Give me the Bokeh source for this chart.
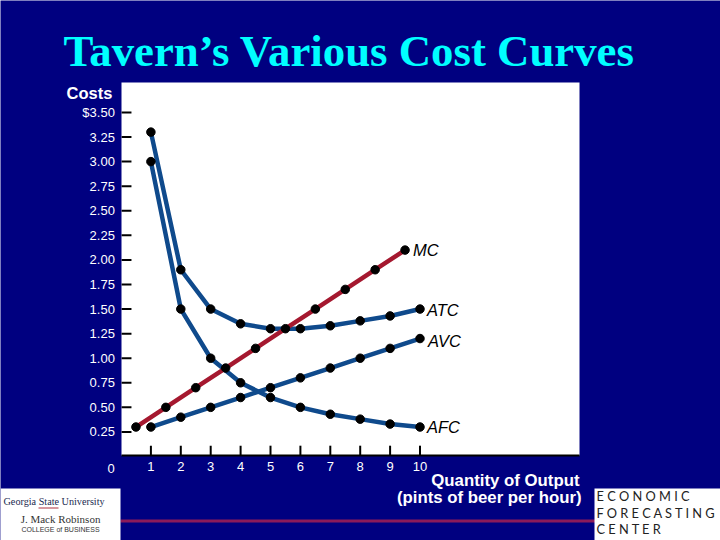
from bokeh.plotting import figure
from bokeh.models import Range1d, Label, FixedTicker, LinearAxis, BoxAnnotation
from bokeh.embed import file_html
from bokeh.resources import INLINE

# Data
quantity = [1, 2, 3, 4, 5, 6, 7, 8, 9, 10]
mc_quantity = [0.5, 1.5, 2.5, 3.5, 4.5, 5.5, 6.5, 7.5, 8.5, 9.5]
mc = [0.30, 0.50, 0.70, 0.90, 1.10, 1.30, 1.50, 1.70, 1.90, 2.10]
atc = [3.30, 1.90, 1.50, 1.35, 1.30, 1.30, 1.33, 1.38, 1.43, 1.50]
avc = [0.30, 0.40, 0.50, 0.60, 0.70, 0.80, 0.90, 1.00, 1.10, 1.20]
afc = [3.00, 1.50, 1.00, 0.75, 0.60, 0.50, 0.43, 0.38, 0.33, 0.30]
y_ticks = [0.25, 0.50, 0.75, 1.00, 1.25, 1.50, 1.75, 2.00, 2.25, 2.50, 2.75, 3.00, 3.25, 3.50]
y_tick_labels = ["0.25", "0.50", "0.75", "1.00", "1.25", "1.50", "1.75", "2.00",
                 "2.25", "2.50", "2.75", "3.00", "3.25", "$3.50"]

NAVY = "#000080"
BLUE = "#0F4A8C"
RED = "#A5182F"
W, H = 720, 540

# The frame fills the whole canvas, so that screen units are window pixels
p = figure(width=W, height=H, output_backend="svg", toolbar_location=None,
           x_axis_type=None, y_axis_type=None,
           x_range=Range1d(-4.03, 20.05), y_range=Range1d(-0.8545, 4.639),
           min_border=0, background_fill_color=NAVY, border_fill_color=NAVY, outline_line_color=None)
p.grid.visible = False


def box(x0, x1, y0, y1, color):
    p.add_layout(BoxAnnotation(left=x0, right=x1, top=H - y0, bottom=H - y1,
                               left_units="screen", right_units="screen", top_units="screen",
                               bottom_units="screen", fill_color=color, fill_alpha=1, line_color=None,
                               level="image"))


def txt(text, px, py, size, color="white", font="Liberation Sans", style="normal", align="left"):
    p.add_layout(Label(x=px, y=H - py, x_units="screen", y_units="screen", text=text,
                       text_font=font, text_font_size=size, text_font_style=style, text_color=color,
                       text_align=align, text_baseline="middle"))


box(121, 579, 82, 455, "white")
box(120, 596, 519, 522, "#8B1A5A")
box(0, 120, 488, 540, "white")
box(594, 720, 488, 540, "white")
box(38, 58, 507, 508, "#B03040")

xaxis = LinearAxis(fixed_location=0.01, ticker=FixedTicker(ticks=quantity), bounds=(0.02, 15.33))
yaxis = LinearAxis(fixed_location=0.03, ticker=FixedTicker(ticks=y_ticks),
                   major_label_overrides={t: l for t, l in zip(y_ticks, y_tick_labels)})
p.add_layout(xaxis, "below")
p.add_layout(yaxis, "left")
for ax in (xaxis, yaxis):
    ax.major_tick_in = 0
    ax.major_tick_out = 0
    ax.minor_tick_line_color = None
    ax.major_label_text_color = "white"
    ax.major_label_text_font = "Liberation Sans"
    ax.major_label_text_font_size = "13px"
xaxis.axis_line_color = "black"
xaxis.axis_line_width = 2
yaxis.axis_line_color = None
yaxis.major_label_standoff = 7
xaxis.major_label_standoff = 6

# Inward tick marks at the axes' tick values
p.segment(x0=[0.02] * len(y_ticks), x1=[0.35] * len(y_ticks), y0=y_ticks, y1=y_ticks,
          line_color="black", line_width=2)
p.segment(x0=quantity, x1=quantity, y0=[0.01] * len(quantity), y1=[0.11] * len(quantity),
          line_color="black", line_width=2)

for xs, ys, col in [(quantity, atc, BLUE), (quantity, afc, BLUE), (quantity, avc, BLUE), (mc_quantity, mc, RED)]:
    p.line(xs, ys, line_color=col, line_width=4.5)
for xs, ys, col in [(quantity, atc, BLUE), (quantity, afc, BLUE), (quantity, avc, BLUE), (mc_quantity, mc, RED)]:
    p.scatter(xs, ys, size=8.5, color="black")

# Curve labels, attached to each curve's last point
for name, xv, yv, dx, dy in [("MC", mc_quantity[-1], mc[-1], 8, 0), ("ATC", quantity[-1], atc[-1], 7, -1),
                             ("AVC", quantity[-1], avc[-1], 8, -2), ("AFC", quantity[-1], afc[-1], 7, 0)]:
    p.add_layout(Label(x=xv, y=yv, x_offset=dx, y_offset=dy, text=name, text_font="Liberation Sans",
                       text_font_style="italic", text_font_size="16.5px", text_color="black",
                       text_baseline="middle", text_align="left"))

p.add_layout(Label(x=0, y=0, x_offset=-10, y_offset=-12, text="0", text_font="Liberation Sans",
                   text_font_size="13px", text_color="white", text_align="center", text_baseline="middle"))

txt("Tavern\u2019s Various Cost Curves", 63, 50, "44.8px", "#00FFFF", "Liberation Serif", "bold")
txt("Costs", 66, 92, "16.5px", style="bold")
txt("Quantity of Output", 579, 480, "16.8px", style="bold", align="right")
txt("(pints of beer per hour)", 581, 497, "16.8px", style="bold", align="right")

# Logos
txt("Georgia State University", 3, 501, "10.2px", "#1A2A50", "Liberation Serif")
txt("J. Mack Robinson", 60, 518, "11px", "#333333", "Liberation Serif", align="center")
txt("COLLEGE of BUSINESS", 60, 529, "7px", "#333333", align="center")
txt("E C O N O M I C", 596, 495, "12.8px", "#222222", "Lato")
txt("F O R E C A S T I N G", 596, 512, "12.8px", "#222222", "Lato")
txt("C E N T E R", 596, 528, "12.8px", "#222222", "Lato")

open("out.html", "w").write(file_html(p, INLINE))
